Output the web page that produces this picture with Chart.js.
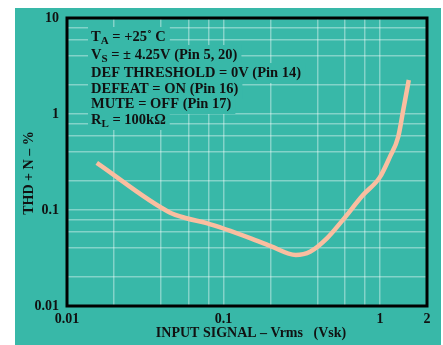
<!DOCTYPE html>
<html>
<head>
<meta charset="utf-8">
<script src="https://cdn.jsdelivr.net/npm/chart.js@4/dist/chart.umd.min.js"></script>
<style>
html,body{margin:0;padding:0;background:#fff;}
#wrap{width:443px;height:345px;}
</style>
</head>
<body>
<div id="wrap"><canvas id="c" width="443" height="345"></canvas></div>
<script>
// ---- data ----
const inputSignal = [0.0155, 0.045, 0.058, 0.078, 0.148, 0.2, 0.29, 0.36, 0.46, 0.58, 0.78, 1.0, 1.16, 1.31, 1.41, 1.53];
const thdN        = [0.31, 0.095, 0.082, 0.073, 0.051, 0.042, 0.034, 0.037, 0.051, 0.079, 0.143, 0.22, 0.36, 0.58, 1.1, 2.26];

const xTickValues = [0.01, 0.02, 0.04, 0.06, 0.08, 0.1, 0.2, 0.4, 0.6, 0.8, 1, 2];
const xLabelValues = [0.01, 0.1, 1, 2];
const xLabelTexts  = ['0.01', '0.1', '1', '2'];
const yTickValues = [0.01, 0.02, 0.04, 0.06, 0.08, 0.1, 0.2, 0.4, 0.6, 0.8, 1, 2, 4, 6, 8, 10];
const yLabelValues = [0.01, 0.1, 1, 10];
const yLabelTexts  = ['0.01', '0.1', '1', '10'];

const xTitle = 'INPUT SIGNAL \u2013 Vrms   (Vsk)';
const yTitle = 'THD + N \u2013 %';
// annotation lines: [text, isSubscript]
const noteLines = [
  [['T', false], ['A', true], [' = +25\u02DA C', false]],
  [['V', false], ['S', true], [' = \u00B1 4.25V (Pin 5, 20)', false]],
  [['DEF THRESHOLD = 0V (Pin 14)', false]],
  [['DEFEAT = ON (Pin 16)', false]],
  [['MUTE = OFF (Pin 17)', false]],
  [['R', false], ['L', true], [' = 100k\u03A9', false]]
];
const noteY = [37, 55, 73, 89, 104, 120];

const TEAL = 'rgb(56,184,168)';
const FONT = '"Liberation Serif", "Times New Roman", serif';

function labelFor(v, vals, texts) {
  for (let i = 0; i < vals.length; i++) {
    if (Math.abs(v - vals[i]) / vals[i] < 1e-6) return texts[i];
  }
  return '';
}

const decor = {
  id: 'decor',
  beforeDraw(chart) {
    const ctx = chart.ctx;
    ctx.save();
    ctx.fillStyle = '#fff';
    ctx.fillRect(0, 0, chart.width, chart.height);
    ctx.fillStyle = TEAL;
    ctx.fillRect(15, 8, 426, 337);
    ctx.restore();
  },
  beforeDatasetsDraw(chart) {
    const ctx = chart.ctx;
    const x0 = 91;
    ctx.save();
    ctx.textBaseline = 'middle';
    ctx.textAlign = 'left';
    noteLines.forEach((segs, i) => {
      const y = noteY[i];
      let w = 0;
      segs.forEach(s => {
        ctx.font = 'bold ' + (s[1] ? 11 : 14.5) + 'px ' + FONT;
        w += ctx.measureText(s[0]).width;
      });
      ctx.fillStyle = TEAL;
      ctx.fillRect(x0 - 3, y - 10, w + 7, 20);
    });
    noteLines.forEach((segs, i) => {
      const y = noteY[i];
      let x = x0;
      ctx.fillStyle = '#111';
      segs.forEach(s => {
        ctx.font = 'bold ' + (s[1] ? 11 : 14.5) + 'px ' + FONT;
        ctx.fillText(s[0], x, s[1] ? y + 4 : y);
        x += ctx.measureText(s[0]).width;
      });
    });
    ctx.restore();
  },
  afterDraw(chart) {
    const ctx = chart.ctx;
    const a = chart.chartArea;
    ctx.save();
    ctx.strokeStyle = '#000';
    ctx.lineWidth = 3;
    ctx.strokeRect(a.left, a.top, a.right - a.left, a.bottom - a.top);
    ctx.fillStyle = '#111';
    ctx.font = 'bold 14px ' + FONT;
    ctx.textAlign = 'center';
    ctx.textBaseline = 'middle';
    ctx.fillText(xTitle, 251, 333);
    ctx.translate(29, 173);
    ctx.rotate(-Math.PI / 2);
    ctx.fillText(yTitle, 0, 0);
    ctx.restore();
  }
};

new Chart(document.getElementById('c'), {
  type: 'line',
  data: {
    datasets: [{
      data: inputSignal.map((x, i) => ({ x: x, y: thdN[i] })),
      borderColor: 'rgb(250,190,160)',
      borderWidth: 4.5,
      pointRadius: 0,
      cubicInterpolationMode: 'monotone',
      fill: false,
      borderCapStyle: 'butt',
      borderJoinStyle: 'round'
    }]
  },
  options: {
    responsive: false,
    animation: false,
    devicePixelRatio: 1,
    layout: { padding: { left: 0, right: 16, top: 18, bottom: 0 } },
    plugins: { legend: { display: false }, tooltip: { enabled: false } },
    scales: {
      x: {
        type: 'logarithmic',
        min: 0.01, max: 2,
        afterBuildTicks(scale) { scale.ticks = xTickValues.map(v => ({ value: v })); },
        afterFit(scale) { scale.height = 39; },
        ticks: {
          autoSkip: false, maxRotation: 0, padding: 5,
          color: '#111',
          font: { family: FONT, size: 14, weight: 'bold' },
          callback(v) { return labelFor(v, xLabelValues, xLabelTexts); }
        },
        grid: { color: 'rgba(255,255,255,0.38)', lineWidth: 1.5, drawTicks: false },
        border: { display: false }
      },
      y: {
        type: 'logarithmic',
        min: 0.01, max: 10,
        afterBuildTicks(scale) { scale.ticks = yTickValues.map(v => ({ value: v })); },
        afterFit(scale) { scale.width = 67; },
        ticks: {
          autoSkip: false, padding: 8,
          color: '#111',
          font: { family: FONT, size: 14, weight: 'bold' },
          callback(v) { return labelFor(v, yLabelValues, yLabelTexts); }
        },
        grid: { color: 'rgba(255,255,255,0.38)', lineWidth: 1.5, drawTicks: false },
        border: { display: false }
      }
    }
  },
  plugins: [decor]
});
</script>
</body>
</html>
